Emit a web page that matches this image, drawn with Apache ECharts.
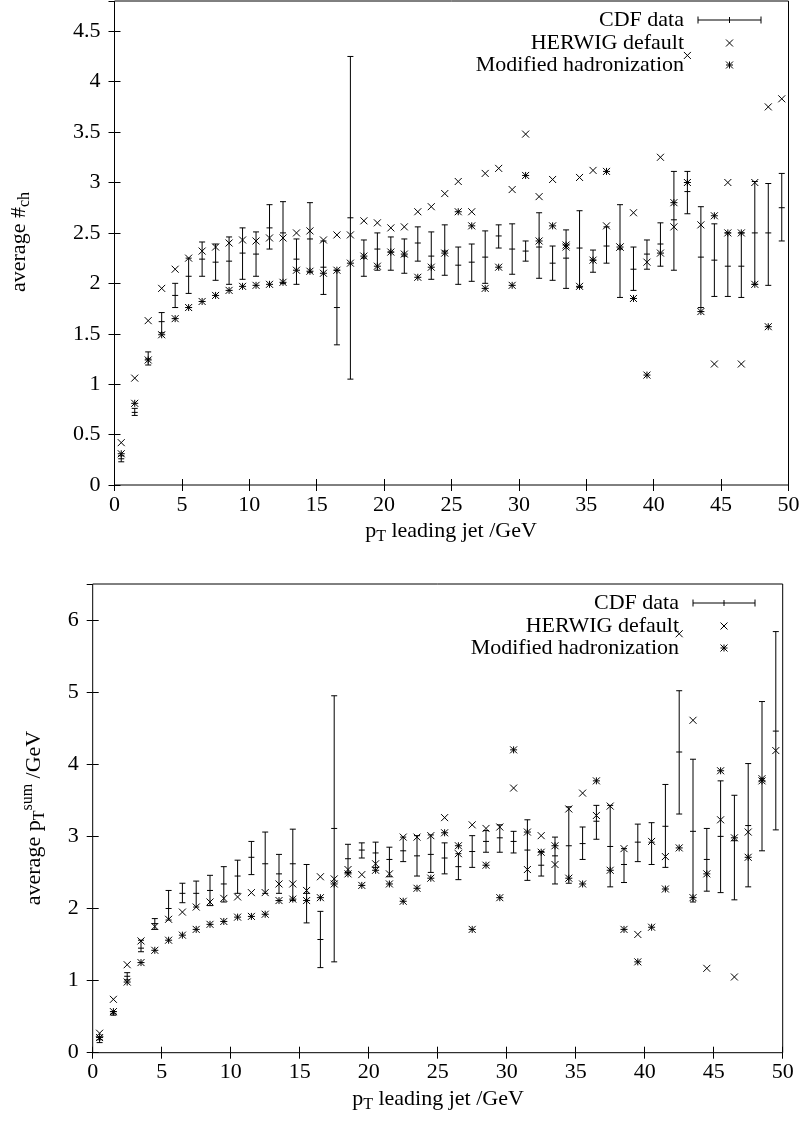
<!DOCTYPE html>
<html><head><meta charset="utf-8">
<script src="https://cdn.jsdelivr.net/npm/echarts@6/dist/echarts.min.js"></script>
<style>html,body{margin:0;padding:0;background:#fff}#c{width:805px;height:1134px}</style>
</head><body><div id="c"></div>
<script>
// ---------- data ----------
const ptBins = [0.5,1.5,2.5,3.5,4.5,5.5,6.5,7.5,8.5,9.5,10.5,11.5,12.5,13.5,14.5,15.5,16.5,17.5,18.5,19.5,
  20.5,21.5,22.5,23.5,24.5,25.5,26.5,27.5,28.5,29.5,30.5,31.5,32.5,33.5,34.5,35.5,36.5,37.5,38.5,39.5,
  40.5,41.5,42.5,43.5,44.5,45.5,46.5,47.5,48.5,49.5];
const xTicks = [0,5,10,15,20,25,30,35,40,45,50];
const nchTicks = [0,0.5,1,1.5,2,2.5,3,3.5,4,4.5];
const ptsumTicks = [0,1,2,3,4,5,6];

// Top panel: average number of charged particles
const nchCdf   = [0.26,0.72,1.25,1.62,1.88,2.07,2.24,2.21,2.22,2.30,2.29,2.55,2.50,2.24,2.44,2.16,1.76,2.65,2.25,2.34,
  2.31,2.27,2.40,2.27,2.32,2.18,2.21,2.26,2.47,2.34,2.32,2.36,2.20,2.25,2.35,2.23,2.37,2.34,2.14,2.29,
  2.39,2.63,2.91,2.26,2.23,2.17,2.17,2.50,2.50,2.75];
const nchCdfLo = [0.23,0.69,1.19,1.51,1.76,1.90,2.07,2.03,1.99,2.04,2.07,2.34,2.00,1.99,2.11,1.89,1.39,1.05,2.07,2.13,
  2.13,2.10,2.22,2.04,2.08,1.99,2.02,2.00,2.35,2.09,2.22,2.05,2.03,1.95,1.96,2.11,2.20,1.86,1.93,2.14,
  2.17,2.13,2.69,1.76,1.87,1.87,1.86,1.99,1.98,2.42];
const nchCdfHi = [0.29,0.76,1.32,1.71,2.00,2.25,2.41,2.39,2.46,2.55,2.51,2.78,2.81,2.44,2.80,2.42,2.13,4.25,2.43,2.50,
  2.46,2.44,2.56,2.51,2.58,2.36,2.39,2.52,2.58,2.59,2.42,2.70,2.37,2.53,2.72,2.33,2.56,2.78,2.36,2.43,
  2.60,3.11,3.11,2.76,2.59,2.50,2.50,3.01,2.99,3.09];
const nchHerwig = [0.42,1.06,1.63,1.95,2.14,2.25,2.32,2.36,2.40,2.43,2.42,2.45,2.45,2.50,2.52,2.43,2.48,2.48,2.62,2.60,
  2.55,2.56,2.71,2.76,2.89,3.01,2.71,3.09,3.14,2.93,3.48,2.86,3.03,2.36,3.05,3.12,2.57,2.36,2.70,2.21,
  3.25,2.56,4.26,2.58,1.20,3.00,1.20,3.00,3.75,3.83];
const nchModified = [0.31,0.81,1.24,1.49,1.65,1.76,1.82,1.88,1.93,1.97,1.98,1.99,2.01,2.13,2.12,2.10,2.13,2.20,2.27,2.17,
  2.31,2.29,2.06,2.16,2.30,2.71,2.57,1.95,2.16,1.98,3.07,2.42,2.57,2.38,1.97,2.23,3.11,2.36,1.85,1.09,
  2.30,2.80,3.00,1.72,2.67,2.50,2.50,1.99,1.57,null];

// Bottom panel: average scalar pT sum
const ptsumCdf   = [0.18,0.54,1.06,1.45,1.79,2.00,2.21,2.21,2.25,2.34,2.45,2.71,2.62,2.48,2.62,2.21,1.57,3.11,2.69,2.81,
  2.77,2.68,2.80,2.73,2.75,2.70,2.58,2.79,2.93,2.98,2.93,2.81,2.60,2.73,2.87,2.90,3.21,2.86,2.61,2.92,
  2.92,3.14,4.17,3.07,2.68,3.00,2.94,3.15,3.80,4.46];
const ptsumCdfLo = [0.14,0.52,1.01,1.40,1.71,1.84,2.08,2.02,2.04,2.09,2.21,2.47,2.21,2.21,2.11,1.80,1.18,1.26,2.50,2.70,
  2.57,2.44,2.65,2.45,2.50,2.48,2.40,2.57,2.78,2.78,2.77,2.39,2.45,2.34,2.35,2.68,2.96,2.30,2.36,2.65,
  2.61,2.57,3.31,2.09,2.24,2.22,2.12,2.30,2.80,3.09];
const ptsumCdfHi = [0.22,0.57,1.11,1.56,1.86,2.25,2.35,2.38,2.46,2.58,2.67,2.93,3.06,2.75,3.10,2.61,1.96,4.95,2.89,2.91,
  2.92,2.85,2.99,3.01,3.02,2.91,2.76,3.01,3.08,3.16,3.07,3.23,2.79,2.99,3.41,3.13,3.43,3.43,2.83,3.17,
  3.19,3.72,5.02,4.07,3.11,3.77,3.57,4.01,4.87,5.84];
const ptsumHerwig = [0.27,0.74,1.22,1.55,1.75,1.85,1.95,2.02,2.09,2.14,2.16,2.22,2.22,2.34,2.34,2.25,2.44,2.41,2.54,2.47,
  2.62,2.48,2.99,2.99,3.01,3.26,2.76,3.16,3.11,3.13,3.67,2.54,3.01,2.61,3.38,3.60,3.29,3.42,2.83,1.64,
  2.93,2.72,5.81,4.61,1.17,3.23,1.05,3.06,3.80,4.19];
const ptsumModified = [0.21,0.57,0.98,1.25,1.42,1.56,1.63,1.71,1.78,1.82,1.88,1.89,1.92,2.11,2.13,2.11,2.15,2.34,2.48,2.32,
  2.53,2.34,2.10,2.28,2.42,3.05,2.87,1.71,2.60,2.15,4.20,3.06,2.78,2.87,2.42,2.34,3.77,2.53,1.71,1.26,
  1.74,2.27,2.84,2.15,2.48,3.91,2.98,2.71,3.77,null];

const legendNames = ['CDF data','HERWIG default','Modified hadronization'];

// ---------- drawing helpers ----------
const FONT = 'Liberation Serif';
const INK = '#000';
const LW = 1;
function seg(x1,y1,x2,y2){return {type:'line',shape:{x1,y1,x2,y2},style:{stroke:INK,lineWidth:LW}};}
function crossShapes(x,y,s){return [seg(x-s,y-s,x+s,y+s),seg(x-s,y+s,x+s,y-s)];}
function starShapes(x,y,s){return crossShapes(x,y,s).concat([seg(x-s,y,x+s,y),seg(x,y-s,x,y+s)]);}

function renderCross(params, api){
  const p = api.coord([api.value(0), api.value(1)]);
  return {type:'group', children: crossShapes(p[0],p[1],3.5)};
}
function renderStar(params, api){
  const p = api.coord([api.value(0), api.value(1)]);
  return {type:'group', children: starShapes(p[0],p[1],3.5)};
}
function renderErr(params, api){
  const x = api.value(0);
  const c = api.coord([x, api.value(1)]);
  const lo = api.coord([x, api.value(2)]);
  const hi = api.coord([x, api.value(3)]);
  const cap = 3;
  return {type:'group', children:[
    seg(c[0],lo[1],c[0],hi[1]),
    seg(c[0]-cap,lo[1],c[0]+cap,lo[1]),
    seg(c[0]-cap,hi[1],c[0]+cap,hi[1]),
    seg(c[0]-3,c[1],c[0]+3,c[1])
  ]};
}
function pts(ys){ return ptBins.map((x,i)=>[x, ys[i]]).filter(d=>d[1]!=null); }
function errPts(ys, lo, hi){ return ptBins.map((x,i)=>[x, ys[i], lo[i], hi[i]]); }

// ---------- layout ----------
const G1 = {left:114.5, top:1, width:674, height:484};
const G2 = {left:92.7, top:584, width:690, height:468.7};

const labelStyle = {color:INK, fontFamily:FONT, fontSize:22};
function xAxisPair(gi){
  return [
    {type:'value', gridIndex:gi, position:'bottom', min:xTicks[0], max:xTicks[xTicks.length-1], interval:xTicks[1]-xTicks[0],
     axisLine:{show:false}, splitLine:{show:false},
     axisTick:{inside:true, length:6, lineStyle:{color:INK}},
     axisLabel:Object.assign({margin:9}, labelStyle)},
    {type:'value', gridIndex:gi, position:'top', min:xTicks[0], max:xTicks[xTicks.length-1], interval:xTicks[1]-xTicks[0],
     axisLine:{show:false}, splitLine:{show:false},
     axisTick:{inside:true, length:6, lineStyle:{color:INK}}, axisLabel:{show:false}}
  ];
}
function yAxisPair(gi, ticks, max){
  const iv = ticks[1]-ticks[0];
  return [
    {type:'value', gridIndex:gi, position:'left', min:ticks[0], max:max, interval:iv,
     axisLine:{show:false}, splitLine:{show:false},
     axisTick:{inside:true, length:6, lineStyle:{color:INK}},
     axisLabel:Object.assign({margin:14, showMaxLabel:false}, labelStyle)},
    {type:'value', gridIndex:gi, position:'right', min:ticks[0], max:max, interval:iv,
     axisLine:{show:false}, splitLine:{show:false},
     axisTick:{inside:true, length:6, lineStyle:{color:INK}}, axisLabel:{show:false}}
  ];
}

const rich = {
  a:{fontFamily:FONT, fontSize:22, lineHeight:28, color:INK},
  s:{fontFamily:FONT, fontSize:16, lineHeight:14, verticalAlign:'bottom', color:INK},
  u:{fontFamily:FONT, fontSize:16, lineHeight:14, verticalAlign:'top', color:INK}
};
function titleText(x,y,text,rot){
  return {type:'text', x, y, rotation:rot||0, z:10,
    style:{text, rich, align:'center', verticalAlign:'middle', fill:INK}};
}
function legendBlock(textRight, sampleL, sampleR, rows){
  const mid = (sampleL+sampleR)/2;
  const els = [];
  legendNames.forEach((n,i)=>{
    els.push({type:'text', x:textRight, y:rows[i], z:10,
      style:{text:n, fontFamily:FONT, fontSize:22, fill:INK, align:'right', verticalAlign:'middle'}});
  });
  const sh = [seg(sampleL,rows[0],sampleR,rows[0]), seg(sampleL,rows[0]-3.5,sampleL,rows[0]+3.5),
    seg(sampleR,rows[0]-3.5,sampleR,rows[0]+3.5), seg(mid,rows[0]-3,mid,rows[0]+3)]
    .concat(crossShapes(mid,rows[1],3.5)).concat(starShapes(mid,rows[2],3.5));
  els.push({type:'group', z:10, children:sh});
  return els;
}

const chart = echarts.init(document.getElementById('c'), null, {renderer:'canvas'});
chart.setOption({
  animation:false,
  backgroundColor:'#fff',
  grid:[Object.assign({show:true, borderColor:INK, borderWidth:1}, G1),
        Object.assign({show:true, borderColor:INK, borderWidth:1}, G2)],
  xAxis: xAxisPair(0).concat(xAxisPair(1)),
  yAxis: yAxisPair(0, nchTicks, 4.8).concat(yAxisPair(1, ptsumTicks, 6.5)),
  series:[
    {type:'custom', name:legendNames[0], xAxisIndex:0, yAxisIndex:0, clip:true, renderItem:renderErr, data:errPts(nchCdf,nchCdfLo,nchCdfHi), encode:{x:0,y:[1,2,3]}},
    {type:'custom', name:legendNames[1], xAxisIndex:0, yAxisIndex:0, clip:true, renderItem:renderCross, data:pts(nchHerwig), encode:{x:0,y:1}},
    {type:'custom', name:legendNames[2], xAxisIndex:0, yAxisIndex:0, clip:true, renderItem:renderStar, data:pts(nchModified), encode:{x:0,y:1}},
    {type:'custom', name:legendNames[0], xAxisIndex:2, yAxisIndex:2, clip:true, renderItem:renderErr, data:errPts(ptsumCdf,ptsumCdfLo,ptsumCdfHi), encode:{x:0,y:[1,2,3]}},
    {type:'custom', name:legendNames[1], xAxisIndex:2, yAxisIndex:2, clip:true, renderItem:renderCross, data:pts(ptsumHerwig), encode:{x:0,y:1}},
    {type:'custom', name:legendNames[2], xAxisIndex:2, yAxisIndex:2, clip:true, renderItem:renderStar, data:pts(ptsumModified), encode:{x:0,y:1}}
  ],
  graphic:[
    titleText(451, 531, '{a|p}{s|T}{a| leading jet /GeV}'),
    titleText(438, 1099, '{a|p}{s|T}{a| leading jet /GeV}'),
    titleText(19, 242, '{a|average #}{s|ch}', Math.PI/2),
    titleText(34, 818, '{a|average p}{s|T}{u|sum}{a| /GeV}', Math.PI/2)
  ].concat(legendBlock(684, 698, 761, [20, 43, 65]))
   .concat(legendBlock(679, 693, 755, [603, 626, 648]))
});
</script></body></html>
